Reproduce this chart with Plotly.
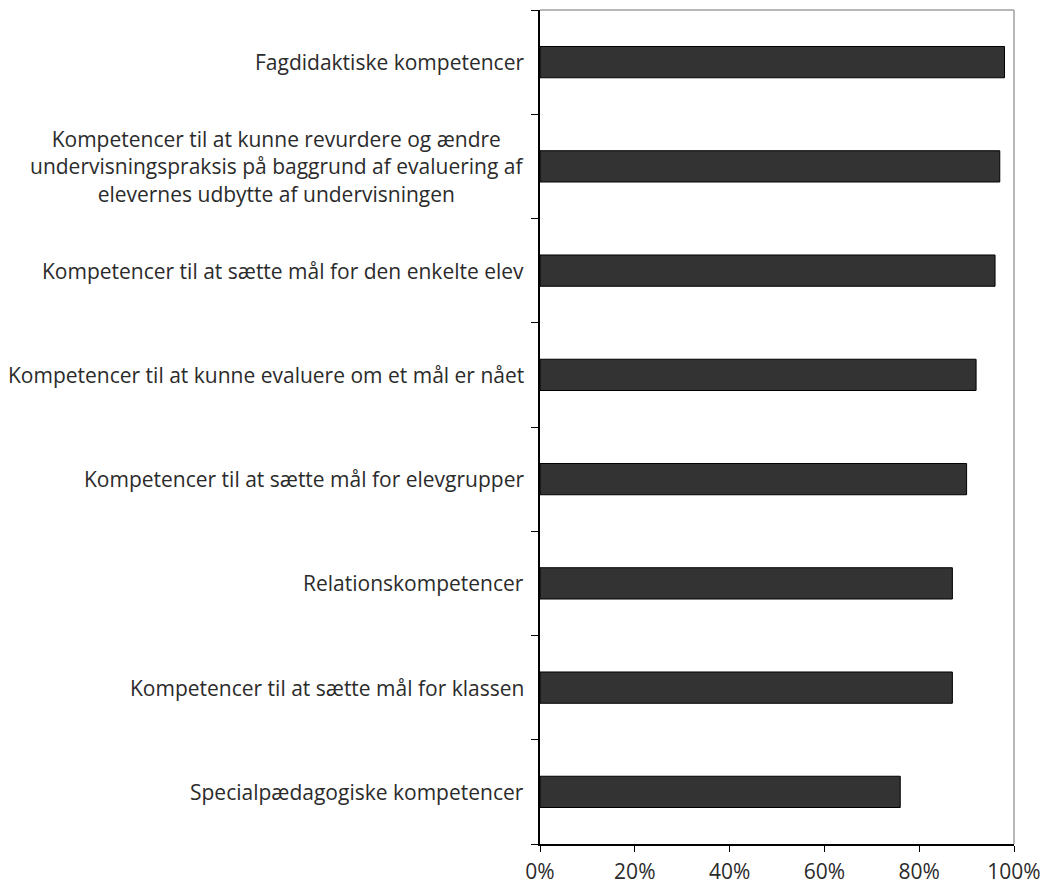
import plotly.graph_objects as go

# Competence categories (top to bottom) and share of respondents
categories = [
    "Fagdidaktiske kompetencer",
    "Kompetencer til at kunne revurdere og ændre<br>undervisningspraksis på baggrund af evaluering af<br>elevernes udbytte af undervisningen",
    "Kompetencer til at sætte mål for den enkelte elev",
    "Kompetencer til at kunne evaluere om et mål er nået",
    "Kompetencer til at sætte mål for elevgrupper",
    "Relationskompetencer",
    "Kompetencer til at sætte mål for klassen",
    "Specialpædagogiske kompetencer",
]
values = [0.98, 0.97, 0.96, 0.92, 0.90, 0.87, 0.87, 0.76]
x_ticks = [0, 0.2, 0.4, 0.6, 0.8, 1.0]
x_tick_labels = ["0%", "20%", "40%", "60%", "80%", "100%"]

FONT = "Open Sans"
FONT_SIZE = 21
TEXT_COLOR = "#2b2b2b"

fig = go.Figure(
    go.Bar(
        x=values,
        y=categories,
        orientation="h",
        width=0.3,
        marker=dict(color="#333333", line=dict(color="#000000", width=1)),
        hoverinfo="x+y",
    )
)

# Category labels as centred multi-line annotations to the left of the axis
for cat in categories:
    fig.add_annotation(
        x=0, xref="paper", y=cat, yref="y",
        text=cat, showarrow=False,
        xanchor="right", yanchor="middle", align="center",
        xshift=-14,
        font=dict(family=FONT, size=FONT_SIZE, color=TEXT_COLOR),
    )

# Light grey frame on the top and right of the plot area
fig.add_shape(type="line", xref="paper", yref="paper", x0=0, x1=1, y0=1, y1=1,
              line=dict(color="#a0a0a0", width=1.5), layer="below")
fig.add_shape(type="line", xref="paper", yref="paper", x0=1, x1=1, y0=0, y1=1,
              line=dict(color="#a0a0a0", width=1.5), layer="below")

fig.update_layout(
    width=1055, height=888,
    margin=dict(l=540, r=41, t=10, b=44),
    paper_bgcolor="white", plot_bgcolor="white",
    showlegend=False,
    font=dict(family=FONT, size=FONT_SIZE, color=TEXT_COLOR),
    xaxis=dict(
        range=[0, 1], tickvals=x_ticks, ticktext=x_tick_labels,
        showgrid=False, zeroline=False, automargin=False,
        showline=True, linecolor="#000000", linewidth=1.5,
        ticks="outside", ticklen=6, tickcolor="#000000", tickwidth=1,
        ticklabelstandoff=2,
        tickfont=dict(family=FONT, size=FONT_SIZE, color=TEXT_COLOR),
        fixedrange=True,
    ),
    yaxis=dict(
        type="category", categoryorder="array", categoryarray=categories[::-1],
        showticklabels=False, tickson="boundaries", automargin=False,
        showgrid=False, zeroline=False,
        showline=True, linecolor="#000000", linewidth=1.5,
        ticks="outside", ticklen=7, tickcolor="#000000", tickwidth=1,
        fixedrange=True,
    ),
)

fig.write_html("out.html")
